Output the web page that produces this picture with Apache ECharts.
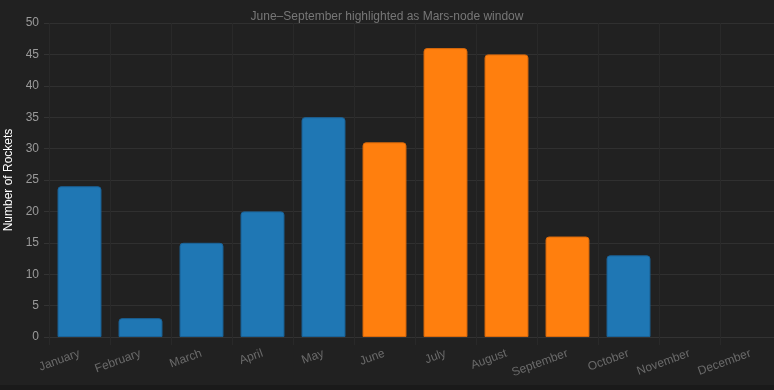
<!DOCTYPE html>
<html><head><meta charset="utf-8">
<script src="https://cdn.jsdelivr.net/npm/echarts@6/dist/echarts.min.js"></script>
<style>html,body{margin:0;padding:0;background:#1a1a1a;}#c{width:774px;height:385px;}</style>
</head><body><div id="c"></div>
<script>
const months = ['January','February','March','April','May','June','July','August','September','October','November','December'];
const rockets = [24, 3, 15, 20, 35, 31, 46, 45, 16, 13, 0, 0];
const highlighted = ['June','July','August','September'];
const yTicks = [0, 5, 10, 15, 20, 25, 30, 35, 40, 45, 50];
const titleText = 'June\u2013September highlighted as Mars-node window';
const yName = 'Number of Rockets';

const BLUE = '#1f77b4', ORANGE = '#ff7f0e';
const chart = echarts.init(document.getElementById('c'));
chart.setOption({
  backgroundColor: '#212121',
  animation: false,
  textStyle: { fontFamily: 'Liberation Sans, Arial, sans-serif' },
  title: { text: titleText, left: 'center', top: 6,
    textStyle: { color: '#777', fontSize: 12, fontWeight: 'normal' } },
  grid: { left: 49, right: -7, top: 23, bottom: 48, containLabel: false, outerBoundsMode: 'none' },
  xAxis: {
    type: 'category', data: months,
    axisLine: { lineStyle: { color: '#333' } },
    axisTick: { show: true, length: 8, lineStyle: { color: '#292929' } },
    splitLine: { show: true, lineStyle: { color: '#292929' } },
    axisLabel: { color: '#6a6a6a', fontSize: 12, rotate: 20, margin: 16 }
  },
  yAxis: {
    type: 'value', min: yTicks[0], max: yTicks[yTicks.length-1], interval: 5,
    name: yName, nameLocation: 'middle', nameGap: 30, nameRotate: 90,
    nameTextStyle: { color: '#fff', fontSize: 12 },
    axisLine: { show: false },
    axisTick: { show: true, length: 5, lineStyle: { color: '#333' } },
    splitLine: { lineStyle: { color: '#303030' } },
    axisLabel: { color: '#9a9a9a', fontSize: 12, margin: 10 }
  },
  series: [{
    type: 'bar', barCategoryGap: '28%',
    data: rockets.map((v, i) => {
      const hi = highlighted.includes(months[i]);
      return { value: v, itemStyle: {
        color: hi ? ORANGE : BLUE,
        borderColor: hi ? '#d9690b' : '#1a6399', borderWidth: v === 0 ? 0 : 1,
        opacity: v === 0 ? 0 : 1,
        borderRadius: [3, 3, 0, 0] } };
    })
  }]
});
</script></body></html>
